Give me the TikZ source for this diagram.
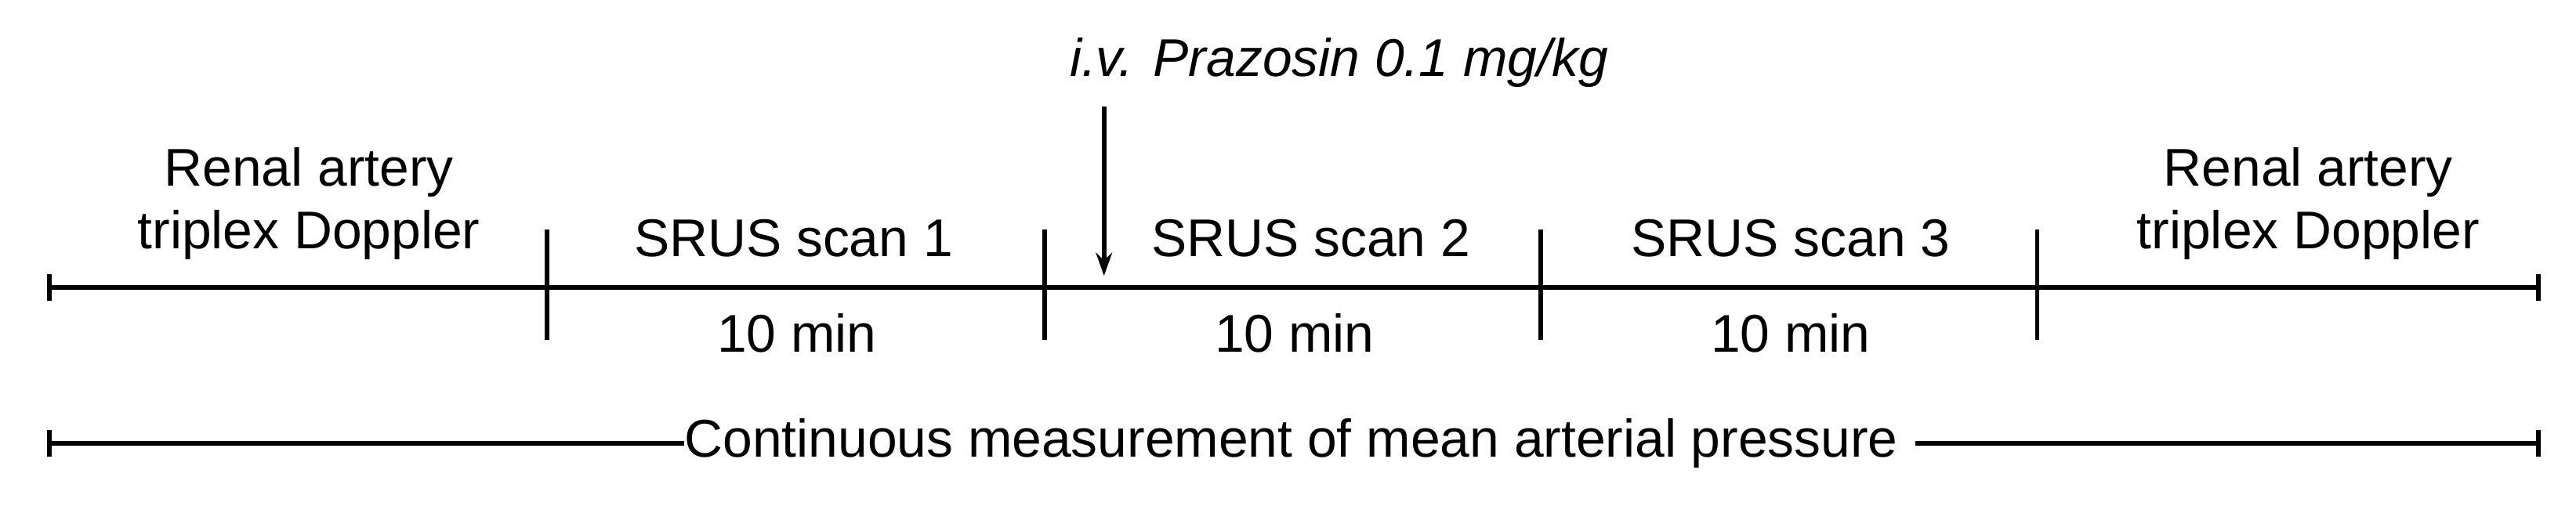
\documentclass[tikz,border=0pt]{standalone}
\usepackage{fontspec}
\setmainfont{Liberation Sans}
\usetikzlibrary{arrows.meta}
\begin{document}
\begin{tikzpicture}[x=0.05cm,y=-0.05cm,
  ln/.style={line width=4pt},
  lbl/.style={font=\fontsize{46}{54}\selectfont,align=center,inner sep=0pt}]
\useasboundingbox (0,0) rectangle (1568,308);
\coordinate (L) at (30,175); \coordinate (R) at (1545,175);
\draw[ln] (L) -- (R);
\draw[ln] (30,167) -- (30,183); \draw[ln] (1545,167) -- (1545,183);
\foreach \x/\n in {333/a,636/b,938/c,1240/d} \draw[ln] (\x,140) coordinate(t\n) -- (\x,207);
\node[lbl] (r1) at (188,124) {Renal artery\\triplex Doppler};
\node[lbl] (r2) at (1405,124) {Renal artery\\triplex Doppler};
\node[lbl] (s1) at (483,145) {SRUS scan 1};
\node[lbl] (s2) at (798,145) {SRUS scan 2};
\node[lbl] (s3) at (1090,145) {SRUS scan 3};
\node[lbl] (m1) at (485,203) {10 min};
\node[lbl] (m2) at (788,203) {10 min};
\node[lbl] (m3) at (1090,203) {10 min};
\node[lbl,font=\fontsize{46}{54}\selectfont\itshape] (p) at (815,38) {i.v. Prazosin 0.1 mg/kg};
\coordinate (pa) at (672,65); \coordinate (pb) at (672,168);
\draw[ln,-{Stealth[length=20pt,width=14pt]}] (pa) -- (pb);
\node[lbl] (c) at (786,270) {Continuous measurement of mean arterial pressure};
\coordinate (b1) at (30,270); \coordinate (b2) at (1545,270);
\draw[ln] (b1) -- (c.west) ++(-12,0);
\draw[ln] (b1) -- ([xshift=-15pt]c.west);
\draw[ln] ([xshift=15pt]c.east) -- (b2);
\draw[ln] (30,262) -- (30,278); \draw[ln] (1545,262) -- (1545,278);
\end{tikzpicture}
\end{document}
